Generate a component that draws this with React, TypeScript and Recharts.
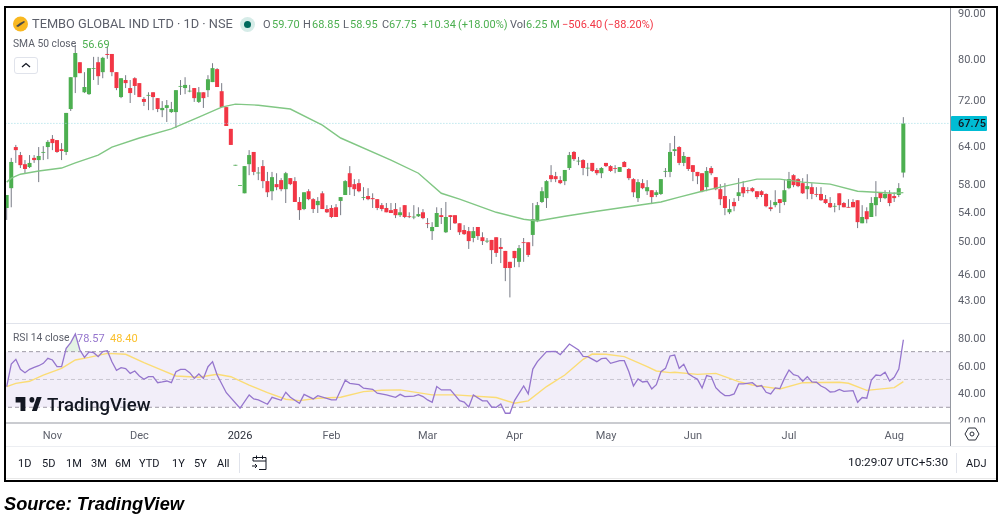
import { Area, Bar, ComposedChart, Line, ReferenceArea, ReferenceLine, XAxis, YAxis } from 'recharts';

// daily candles, Nov to Aug
const opens = [
  54.5, 57.35, 63.75, 62.45, 61.0, 60.55, 62.0, 61.65, 62.9, 63.75,
  65.1, 64.9, 63.4, 62.95, 70.3, 76.3, 79.3, 73.4, 73.05, 78.0,
  79.3, 77.3, 81.0, 81.0, 77.3, 72.5, 75.75, 74.2, 76.1, 75.15,
  72.15, 72.8, 73.4, 72.3, 70.1, 70.5, 69.75, 69.75, 74.5, 74.2,
  73.6, 74.2, 71.6, 73.4, 73.8, 75.35, 77.9, 73.6, 70.65, 66.8,
  60.8, 57.75, 56.6, 61.0, 62.95, 59.6, 60.7, 58.4, 56.9, 57.95,
  58.55, 57.2, 58.85, 58.4, 55.35, 54.35, 56.9, 55.75, 54.9, 56.6,
  54.35, 54.5, 54.6, 55.5, 56.35, 59.6, 57.95, 58.1, 56.0, 56.2,
  55.9, 55.75, 54.9, 54.5, 54.2, 54.35, 53.5, 54.9, 53.35, 53.25,
  53.35, 53.9, 52.4, 51.35, 51.9, 53.5, 51.2, 53.5, 53.5, 52.4,
  51.5, 51.35, 50.45, 51.9, 50.55, 50.05, 50.2, 50.55, 49.3, 48.8,
  47.45, 48.8, 47.45, 49.9, 49.9, 50.85, 52.7, 55.35, 55.9, 59.3,
  59.15, 58.55, 58.4, 60.4, 62.95, 61.5, 61.65, 60.4, 61.2, 60.1,
  59.6, 61.2, 60.7, 60.4, 59.8, 61.35, 60.25, 58.7, 55.9, 58.1,
  56.9, 57.05, 56.35, 56.5, 59.9, 59.8, 63.1, 63.75, 61.2, 62.15,
  60.85, 59.8, 59.6, 57.5, 60.4, 59.0, 57.2, 56.2, 53.9, 55.35,
  56.2, 57.5, 57.05, 57.35, 56.9, 56.9, 56.5, 54.6, 54.9, 55.75,
  55.35, 57.35, 59.3, 58.7, 58.1, 57.2, 57.5, 56.5, 56.5, 55.75,
  55.2, 54.75, 56.6, 55.2, 54.65, 55.35, 55.6, 52.4, 54.05, 53.25,
  54.9, 56.75, 55.9, 56.5, 56.2, 56.35, 59.7,
];
const highs = [
  56.35, 62.0, 64.1, 62.95, 61.65, 62.45, 62.45, 63.75, 63.9, 64.9,
  65.75, 64.9, 64.4, 69.6, 76.3, 82.9, 79.3, 77.3, 78.1, 80.4,
  80.4, 80.4, 82.5, 81.0, 77.3, 76.1, 76.7, 75.75, 76.3, 75.15,
  72.5, 73.4, 73.4, 72.3, 71.75, 71.95, 71.6, 73.8, 75.75, 76.3,
  74.8, 74.2, 74.4, 73.4, 76.7, 79.1, 78.1, 75.15, 70.65, 66.8,
  60.9, 57.8, 60.7, 63.25, 62.95, 60.55, 61.65, 59.8, 59.8, 59.6,
  58.85, 59.8, 58.85, 59.0, 56.05, 56.75, 57.2, 55.9, 56.05, 56.9,
  54.9, 54.9, 55.05, 56.05, 58.55, 60.7, 58.7, 58.7, 57.5, 57.35,
  56.6, 55.75, 55.2, 55.2, 55.2, 55.2, 54.6, 54.9, 53.9, 54.9,
  54.6, 54.35, 53.1, 52.55, 54.6, 54.5, 55.35, 53.5, 53.5, 52.4,
  52.15, 51.9, 51.9, 51.9, 51.2, 50.45, 50.2, 50.55, 50.45, 48.8,
  47.45, 48.8, 49.55, 50.45, 49.9, 55.2, 55.35, 57.5, 58.55, 60.85,
  59.8, 59.15, 60.1, 62.95, 63.1, 62.15, 61.8, 61.2, 61.2, 60.4,
  60.55, 61.2, 60.85, 60.85, 60.55, 61.5, 60.4, 58.85, 58.7, 58.7,
  58.55, 57.05, 57.05, 58.7, 60.4, 64.4, 65.6, 63.9, 62.95, 62.15,
  60.85, 59.8, 59.6, 60.55, 60.7, 59.0, 57.95, 58.1, 55.75, 55.9,
  58.85, 58.4, 57.5, 57.5, 56.9, 57.05, 56.6, 55.6, 57.05, 55.75,
  58.55, 59.8, 59.45, 58.85, 58.85, 59.45, 58.1, 57.5, 57.5, 56.35,
  56.05, 55.2, 56.6, 55.35, 55.75, 55.75, 55.6, 54.9, 54.6, 56.05,
  58.4, 56.75, 57.05, 57.05, 56.75, 58.1, 68.85,
];
const lows = [
  52.85, 54.6, 61.2, 60.4, 59.6, 60.4, 61.2, 58.25, 61.65, 61.8,
  63.25, 62.8, 61.65, 62.45, 69.95, 73.25, 77.1, 73.25, 72.9, 75.75,
  74.8, 76.1, 80.0, 76.5, 73.8, 72.3, 74.2, 71.4, 72.9, 72.5,
  70.85, 70.1, 70.1, 69.75, 68.85, 68.0, 69.6, 66.95, 72.9, 73.05,
  73.4, 71.6, 71.4, 70.5, 72.5, 75.35, 74.4, 70.65, 67.3, 64.1,
  60.8, 57.75, 56.6, 59.3, 59.3, 58.55, 57.35, 56.05, 55.6, 57.05,
  56.9, 55.2, 57.8, 55.35, 52.85, 54.2, 55.6, 53.8, 53.8, 54.35,
  53.8, 53.1, 53.25, 53.5, 56.35, 56.35, 56.2, 56.75, 55.6, 55.6,
  54.5, 54.2, 54.05, 53.9, 53.8, 53.1, 53.25, 53.1, 53.1, 52.95,
  53.25, 52.95, 51.75, 50.2, 51.9, 52.3, 51.1, 51.5, 52.3, 50.85,
  50.85, 49.05, 49.9, 50.2, 49.55, 49.8, 47.2, 48.05, 47.3, 45.15,
  43.3, 46.8, 46.8, 47.45, 48.05, 49.4, 52.55, 55.2, 54.5, 58.25,
  58.25, 57.95, 57.8, 60.1, 61.5, 60.85, 59.3, 59.15, 59.8, 59.3,
  58.85, 60.55, 59.8, 59.6, 59.8, 60.55, 58.55, 56.05, 55.35, 57.2,
  56.35, 55.05, 56.05, 56.35, 59.0, 59.0, 62.3, 60.85, 60.7, 59.95,
  58.4, 57.95, 56.75, 56.9, 59.3, 57.05, 54.9, 53.5, 53.65, 54.05,
  55.5, 56.05, 56.6, 56.75, 55.75, 56.05, 54.6, 54.05, 54.6, 53.8,
  54.9, 57.2, 57.5, 57.5, 56.5, 55.75, 55.75, 56.05, 55.5, 55.05,
  54.5, 53.9, 54.2, 54.6, 54.55, 54.6, 51.75, 52.4, 52.4, 53.25,
  53.35, 55.35, 55.75, 54.75, 55.35, 56.05, 58.95,
];
const closes = [
  56.35, 61.35, 63.25, 60.85, 60.25, 61.2, 61.65, 62.3, 62.95, 64.6,
  64.4, 62.95, 63.1, 69.6, 76.3, 81.2, 77.1, 74.4, 78.1, 78.1,
  76.5, 80.2, 80.8, 77.3, 74.2, 76.1, 75.15, 73.25, 74.6, 72.5,
  71.6, 72.9, 72.5, 70.3, 70.5, 71.0, 70.3, 73.8, 74.6, 74.8,
  73.7, 72.3, 73.4, 72.3, 75.9, 78.1, 74.4, 70.65, 67.3, 64.1,
  60.9, 57.8, 60.7, 62.45, 59.8, 59.7, 58.4, 56.75, 59.0, 57.5,
  57.2, 59.6, 57.95, 55.35, 54.2, 56.75, 55.75, 54.35, 55.5, 54.35,
  53.9, 53.25, 53.25, 56.05, 58.4, 57.5, 57.2, 56.9, 56.05, 55.75,
  55.75, 54.5, 54.35, 53.9, 53.8, 53.5, 53.9, 53.25, 53.3, 53.3,
  53.65, 53.1, 52.3, 51.9, 53.8, 53.25, 53.25, 53.25, 52.4, 51.2,
  50.95, 50.05, 51.35, 50.7, 50.05, 50.1, 48.9, 48.55, 49.05, 46.7,
  46.7, 47.9, 49.15, 49.8, 48.3, 52.95, 54.9, 56.9, 58.4, 58.7,
  58.7, 58.1, 60.1, 62.45, 61.8, 61.55, 60.4, 60.45, 59.95, 59.6,
  60.4, 60.7, 59.95, 60.35, 60.55, 60.55, 58.85, 56.75, 58.25, 57.35,
  57.5, 56.05, 56.75, 58.7, 59.95, 62.95, 63.4, 61.2, 62.3, 60.25,
  59.8, 59.15, 56.9, 59.95, 59.6, 57.2, 55.75, 54.5, 54.35, 54.75,
  56.75, 56.6, 57.0, 56.9, 56.05, 56.35, 54.75, 54.35, 55.35, 55.2,
  57.05, 58.7, 57.8, 57.65, 56.6, 57.65, 56.5, 56.45, 55.6, 55.2,
  54.6, 54.8, 54.9, 54.6, 54.6, 54.6, 52.55, 53.25, 52.95, 55.2,
  56.05, 55.9, 56.5, 55.2, 55.9, 57.35, 67.75,
];

// [day, value] where the line visibly bends
const smaPoints = [
  [0, 58.25], [1, 58.85], [3, 59.45], [7, 59.95], [12, 60.4], [15, 61.2], [20, 62.45], [23, 63.75],
  [29, 65.25], [36, 66.8], [42, 68.85], [47, 70.65], [50, 71.2], [55, 71.0], [62, 70.3], [69, 67.45],
  [73, 65.25], [84, 61.65], [90, 59.6], [95, 56.6], [99, 55.75], [107, 53.9], [113, 52.95], [116, 52.7],
  [122, 53.35], [129, 54.05], [135, 54.6], [143, 55.35], [147, 56.05], [152, 56.9], [157, 57.65],
  [164, 58.7], [169, 58.7], [174, 58.25], [180, 57.95], [186, 56.9], [190, 56.75], [194, 56.6], [196, 56.69],
];
const rsiPoints = [
  [0, 44.9], [1, 61.1], [2, 64.5], [3, 57.3], [4, 54.9], [5, 57.3], [6, 58.7], [7, 59.9], [8, 61.6], [9, 65.2],
  [10, 64], [11, 59.2], [12, 59.2], [13, 72.4], [14, 76.5], [15, 82.7], [16, 71.2], [17, 65.9], [18, 69.8], [19, 69.3],
  [20, 66.4], [21, 70], [22, 70.7], [23, 62.8], [24, 56.6], [25, 58.5], [26, 57.8], [27, 54.4], [28, 56.1], [29, 52.5],
  [30, 50.1], [31, 52], [32, 52], [33, 47.7], [34, 48.2], [35, 48.9], [36, 47.7], [37, 55.6], [38, 57.3], [39, 57.3],
  [40, 54.9], [41, 50.8], [42, 54], [43, 50.8], [44, 59.2], [45, 62.8], [46, 53.2], [48, 40.5], [51, 29.3], [53, 38.9],
  [54, 36], [55, 35.3], [57, 32.2], [58, 37.2], [60, 35], [61, 40.8], [62, 37.2], [64, 32.9], [65, 39.3], [67, 36],
  [68, 38.4], [71, 35.3], [72, 35.3], [74, 49.4], [75, 47.2], [77, 46.3], [78, 43.7], [80, 42.9], [81, 40.1], [83, 38.9],
  [84, 38.1], [85, 37.2], [86, 39.3], [87, 37.7], [89, 38.1], [90, 39.1], [91, 37.7], [92, 35.3], [93, 33.6], [94, 44.9],
  [95, 42.5], [97, 42.5], [99, 34.8], [100, 33.8], [101, 30.2], [102, 38.9], [104, 34.6], [105, 34.6], [106, 30.2], [107, 30],
  [108, 32.4], [109, 25.7], [110, 25.7], [111, 34.8], [113, 45.3], [114, 39.6], [115, 57.5], [116, 62.8], [118, 70], [120, 70.2],
  [121, 67.8], [123, 75.5], [125, 71.2], [126, 66.6], [127, 66.4], [129, 62.8], [130, 65], [131, 65.4], [132, 61.6], [134, 63.5],
  [135, 63.5], [136, 55.6], [137, 45.3], [138, 50.4], [139, 48.2], [140, 48.7], [141, 43.2], [142, 46.3], [143, 55.6], [144, 58],
  [145, 66.9], [146, 67.6], [147, 58], [148, 60.9], [149, 54], [150, 52], [151, 50.1], [152, 43.9], [153, 52.8], [154, 52],
  [155, 44.1], [156, 40.8], [157, 38.4], [158, 38.4], [159, 39.6], [160, 46.8], [161, 46.8], [163, 47.7], [164, 44.9], [165, 45.6],
  [166, 40.8], [167, 39.6], [168, 43.9], [169, 43.4], [170, 50.8], [171, 56.8], [172, 53.5], [173, 52.5], [174, 48.7], [175, 52],
  [176, 48.2], [177, 48], [178, 45.3], [179, 43.7], [180, 41], [181, 41.3], [182, 42.9], [183, 41.5], [185, 42], [186, 33.6],
  [187, 37], [188, 36.5], [189, 49.6], [190, 53.2], [191, 52.8], [192, 55.2], [193, 48.9], [194, 51.6], [195, 57.5], [196, 78.57],
];
const rsiAvgPoints = [
  [0, 44.9], [2, 47.2], [5, 48.7], [8, 53.2], [12, 58], [15, 64], [18, 65.9], [22, 68.8], [26, 68.1], [30, 62.1],
  [33, 58], [37, 52.5], [42, 51.6], [46, 53.7], [49, 52], [53, 46], [57, 40.5], [61, 35.8], [64, 34.8], [68, 36.5],
  [73, 37.2], [78, 41.3], [82, 42.2], [86, 42.5], [93, 38.9], [98, 38.9], [107, 37], [111, 32.9], [114, 34.6], [118, 44.9],
  [122, 53.2], [126, 64.5], [128, 68.3], [131, 68.1], [135, 66.4], [140, 59.2], [142, 56.1], [145, 54.9], [146, 55.2], [151, 53.7],
  [155, 54.4], [160, 48.4], [163, 46], [169, 43.2], [174, 47.7], [182, 48], [184, 47.3], [188, 42.2], [194, 44.1], [196, 48.4],
];
const rsiPeak = [[13, 72.4], [14, 76.5], [15, 82.7], [16, 71.2]];

const priceTicks = [43, 46, 50, 54, 58, 64, 72, 80, 90];
const rsiTicks = [20, 40, 60, 80];
const monthDays = [10, 29, 51, 71, 92, 111, 131, 150, 171, 194];
const monthLabels = ['Nov', 'Dec', '2026', 'Feb', 'Mar', 'Apr', 'May', 'Jun', 'Jul', 'Aug'];
const ranges = ['1D', '5D', '1M', '3M', '6M', 'YTD', '1Y', '5Y', 'All'];
const rangeLeft = [18, 42, 66, 91, 115, 139, 172, 194, 217];
const lastClose = 67.75;
const blankDays = 10; // empty sessions to the right of the last candle

const smaByDay = new Map(smaPoints.map(([d, v]) => [d, v]));
const rsiByDay = new Map(rsiPoints.map(([d, v]) => [d, v]));
const avgByDay = new Map(rsiAvgPoints.map(([d, v]) => [d, v]));
const peakByDay = new Map(rsiPeak.map(([d, v]) => [d, v]));

const candles: any[] = opens.map((open, i) => ({
  day: i,
  open,
  close: closes[i],
  wick: [lows[i], highs[i]],
  body: [Math.min(open, closes[i]), Math.max(open, closes[i])],
  sma: smaByDay.get(i) ?? null,
}));
for (let k = 0; k < blankDays; k++) candles.push({ day: opens.length + k });

const rsiRows = opens.map((_, i) => ({
  day: i,
  rsi: rsiByDay.get(i) ?? null,
  avg: avgByDay.get(i) ?? null,
  peak: peakByDay.has(i) ? [70, peakByDay.get(i)] : null,
}));

const UP = '#4CAF50';
const DOWN = '#F23645';
const WICK = '#787B86';
const AXIS_TEXT = '#5d606b';
const FONT = 'Roboto, sans-serif';

const Wick = (p: any) => {
  if (!p.payload.wick) return null;
  return <rect x={p.x + p.width / 2 - 0.5} y={p.y} width={1} height={p.height} fill={WICK} />;
};

const Body = (p: any) => {
  if (!p.payload.body) return null;
  const up = p.payload.close >= p.payload.open;
  return (
    <rect x={p.x + p.width / 2 - 2} y={p.y} width={4} height={Math.max(p.height, 0.8)} fill={up ? UP : DOWN} />
  );
};

const PriceTick = ({ x, y, payload }: any) => {
  if (payload.value === lastClose) {
    return (
      <g>
        <rect x={x - 7} y={y - 7.5} width={36} height={15} fill="#00BCD4" rx={1} />
        <text x={x} y={y + 4} fontSize={11} fontWeight={500} fill="#131722" fontFamily={FONT}>67.75</text>
      </g>
    );
  }
  return <text x={x} y={y + 4} fontSize={11} fill={AXIS_TEXT} fontFamily={FONT}>{payload.value.toFixed(2)}</text>;
};

const RsiTick = ({ x, y, payload }: any) => (
  <text x={x} y={y + 4} fontSize={11} fill={AXIS_TEXT} fontFamily={FONT} clipPath="url(#rsiPane)">
    {payload.value.toFixed(2)}
  </text>
);

const MonthTick = ({ x, y, payload }: any) => {
  const label = monthLabels[monthDays.indexOf(payload.value)];
  return (
    <text x={x} y={y + 4} textAnchor="middle" fontSize={11} fontFamily={FONT}
      fill={label === '2026' ? '#2a2e39' : AXIS_TEXT}>{label}</text>
  );
};

const Label = ({ x, y, color, size = 11, weight = 400, children }: any) => (
  <span style={{
    position: 'absolute', left: x, top: y, transform: 'translateY(-50%)', color, fontSize: size,
    fontWeight: weight, fontFamily: FONT, whiteSpace: 'nowrap', lineHeight: 1,
  }}>{children}</span>
);

const Rule = ({ x, y, w, h, color }: any) => (
  <div style={{ position: 'absolute', left: x, top: y, width: w, height: h, background: color }} />
);

export default function App() {
  return (
    <div style={{ position: 'absolute', left: 0, top: 0, width: 1001, height: 514, background: '#fff', overflow: 'hidden', filter: 'blur(0.35px)' }}>
      <div style={{ position: 'absolute', left: 4, top: 8 }}>
        <ComposedChart width={994} height={315} data={candles} barSize={4.5} barGap={-4.5}
          margin={{ top: 0, right: 0, bottom: 0, left: 0 }}>
          <XAxis dataKey="day" hide padding={{ left: 0.41, right: 0 }} />
          <YAxis orientation="right" scale="log" domain={[40.54, 91.17]} allowDataOverflow ticks={[...priceTicks, lastClose]}
            interval={0} width={46.6} axisLine={false} tickLine={false} tickMargin={0.6} tick={<PriceTick />} />
          <ReferenceLine y={lastClose} stroke="#9fdde6" strokeDasharray="1 2" />
          <Bar dataKey="wick" shape={<Wick />} isAnimationActive={false} />
          <Bar dataKey="body" shape={<Body />} isAnimationActive={false} />
          <Line dataKey="sma" stroke="#81C784" strokeWidth={1.4} dot={false} connectNulls isAnimationActive={false} />
        </ComposedChart>
      </div>

      <div style={{ position: 'absolute', left: 4, top: 324 }}>
        <ComposedChart width={994} height={122} data={rsiRows} margin={{ top: 0, right: 0, bottom: 0, left: 0 }}>
          <defs>
            <clipPath id="rsiPane"><rect x={0} y={0} width={994} height={98.5} /></clipPath>
          </defs>
          <XAxis dataKey="day" type="number" domain={[-0.59, 206.19]} allowDataOverflow height={23} ticks={monthDays} interval={0}
            axisLine={{ stroke: '#9598A1' }} tickLine={false} tickMargin={6} tick={<MonthTick />} />
          <YAxis orientation="right" domain={[18.7, 89.9]} allowDataOverflow ticks={rsiTicks} interval={0} width={48}
            axisLine={false} tickLine={false} tickMargin={2} tick={<RsiTick />} />
          <ReferenceArea y1={30} y2={70} fill="#7E57C2" fillOpacity={0.1} stroke="none" />
          <ReferenceLine y={70} stroke="#9e9ba6" strokeDasharray="4 3" />
          <ReferenceLine y={50} stroke="#c9c6d1" strokeDasharray="4 3" />
          <ReferenceLine y={30} stroke="#9e9ba6" strokeDasharray="4 3" />
          <Area dataKey="peak" stroke="none" fill="#A5D6A7" fillOpacity={0.3} connectNulls={false} dot={false} isAnimationActive={false} />
          <Line dataKey="avg" stroke="#FBDC75" strokeWidth={1.4} dot={false} connectNulls isAnimationActive={false} />
          <Line dataKey="rsi" stroke="#9575CD" strokeWidth={1.3} dot={false} connectNulls isAnimationActive={false} />
        </ComposedChart>
      </div>

      {/* pane rules */}
      <Rule x={5} y={323} w={946} h={1} color="#e0e3eb" />
      <Rule x={950} y={8} w={1} h={438} color="#9598A1" />
      <Rule x={5} y={446} w={991} h={1} color="#eceef2" />
      <Rule x={5} y={478} w={991} h={1} color="#e8e8e8" />
      <Rule x={239} y={453} w={1} h={20} color="#e0e3eb" />
      <Rule x={956} y={453} w={1} h={20} color="#e0e3eb" />

      {/* symbol legend */}
      <svg style={{ position: 'absolute', left: 12, top: 15 }} width={18} height={18}>
        <circle cx={8.5} cy={9} r={7.5} fill="#F9B820" />
        <path d="M4 11 L8 8 L12 6 L13 7 L9 10 L6 12 Z" fill="#4a4a4a" />
      </svg>
      <svg style={{ position: 'absolute', left: 239, top: 16 }} width={17} height={17}>
        <circle cx={8.5} cy={8.5} r={7.5} fill="#d6ece8" />
        <circle cx={8.5} cy={8.5} r={3.5} fill="#00695C" />
      </svg>
      <Label x={32} y={24} color="#5d606b" size={12.8}>TEMBO GLOBAL IND LTD · 1D · NSE</Label>
      <Label x={263} y={24} color="#5d606b">O</Label>
      <Label x={272} y={24} color={UP}>59.70</Label>
      <Label x={303} y={24} color="#5d606b">H</Label>
      <Label x={312} y={24} color={UP}>68.85</Label>
      <Label x={343} y={24} color="#5d606b">L</Label>
      <Label x={350} y={24} color={UP}>58.95</Label>
      <Label x={382} y={24} color="#5d606b">C</Label>
      <Label x={389} y={24} color={UP}>67.75</Label>
      <Label x={422} y={24} color={UP}>+10.34</Label>
      <Label x={458} y={24} color={UP}>(+18.00%)</Label>
      <Label x={510} y={24} color="#5d606b">Vol</Label>
      <Label x={526} y={24} color={UP}>6.25 M</Label>
      <Label x={562} y={24} color={DOWN}>−506.40</Label>
      <Label x={604} y={24} color={DOWN}>(−88.20%)</Label>

      <Label x={13} y={44} color="#5d606b" size={10.3}>SMA 50 close</Label>
      <Label x={82} y={44} color={UP}>56.69</Label>
      <div style={{ position: 'absolute', left: 14, top: 57, width: 22, height: 15, border: '1px solid #e0e3eb', borderRadius: 3 }} />
      <svg style={{ position: 'absolute', left: 20, top: 60 }} width={12} height={10}>
        <path d="M2 7 L6 3.5 L10 7" fill="none" stroke="#131722" strokeWidth={1.3} />
      </svg>

      <Label x={13} y={338} color="#5d606b" size={10.3}>RSI 14 close</Label>
      <Label x={77} y={338} color="#9575CD">78.57</Label>
      <Label x={110} y={338} color="#FBC02D">48.40</Label>

      {/* watermark */}
      <svg style={{ position: 'absolute', left: 14.4, top: 397 }} width={29.3} height={14} viewBox="0 6 36 15" preserveAspectRatio="none">
        <path d="M14 6H2v6h6v9h6V6zm14 15h-6l6-15h6l-6 15zM22 12a3 3 0 100-6 3 3 0 000 6z" fill="#131722" />
      </svg>
      <Label x={47} y={405} color="#131722" size={18.6} weight={500}>TradingView</Label>

      {/* bottom toolbar */}
      {ranges.map((r, i) => (
        <Label key={r} x={rangeLeft[i]} y={463} color="#131722" size={11}>{r}</Label>
      ))}
      <svg style={{ position: 'absolute', left: 251, top: 454 }} width={17} height={17} fill="none" stroke="#131722" strokeWidth={1}>
        <path d="M2 7 V3.5 H15 V15.5 H8 M2 7 H15 M5.5 1.5 V5 M11.5 1.5 V5 M1 12 H6 M4 10 L6 12 L4 14" />
      </svg>
      <svg style={{ position: 'absolute', left: 964, top: 426 }} width={16} height={16} fill="none" stroke="#2a2e39" strokeWidth={1}>
        <path d="M4.5 2 H11.5 L15 8 L11.5 14 H4.5 L1 8 Z" />
        <circle cx={8} cy={8} r={2} />
      </svg>
      <Label x={848} y={463} color="#131722" size={11.8}>10:29:07 UTC+5:30</Label>
      <Label x={966} y={463} color="#131722" size={11}>ADJ</Label>

      {/* frame from the screenshot */}
      <div style={{ position: 'absolute', left: 4, top: 6, width: 990, height: 472, border: '2px solid #000', pointerEvents: 'none' }} />
      <span style={{
        position: 'absolute', left: 4, top: 494, fontFamily: '"Liberation Sans", sans-serif', fontWeight: 700,
        fontStyle: 'italic', fontSize: 18.2, color: '#000', whiteSpace: 'nowrap', lineHeight: 1.1,
      }}>Source: TradingView</span>
    </div>
  );
}
